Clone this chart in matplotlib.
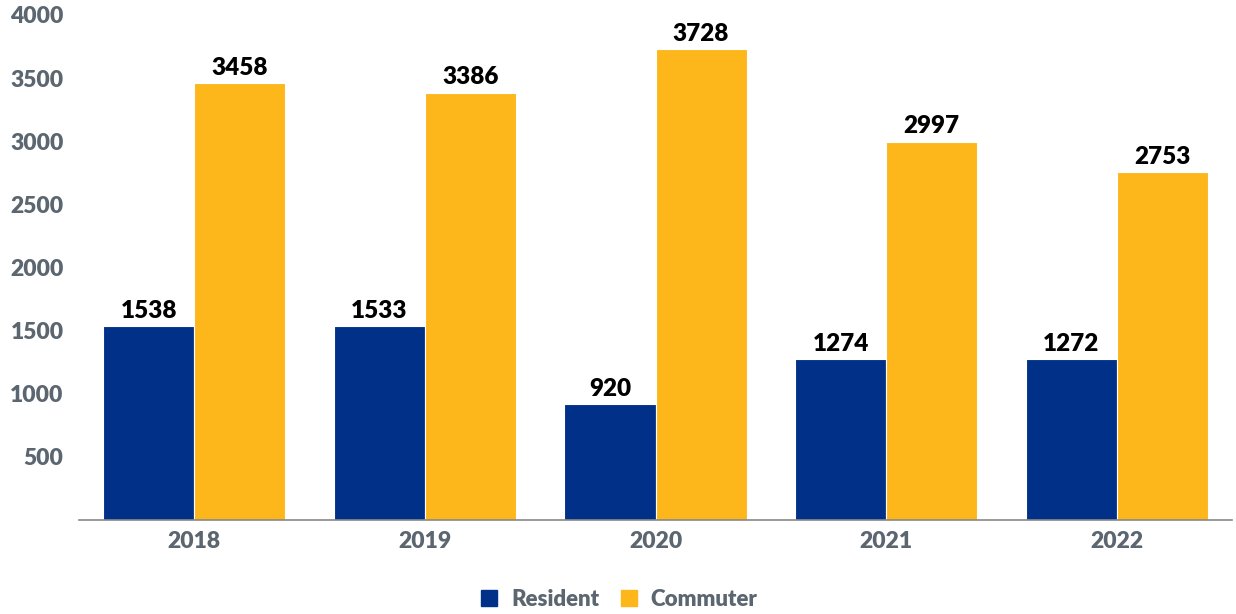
import matplotlib.pyplot as plt
import numpy as np
from matplotlib.lines import Line2D

years = ["2018", "2019", "2020", "2021", "2022"]
resident = [1538, 1533, 920, 1274, 1272]
commuter = [3458, 3386, 3728, 2997, 2753]

BLUE = "#003087"
YELLOW = "#FDB71A"
GRAY = "#5B6670"

plt.rcParams['font.family'] = ['Lato', 'DejaVu Sans']

fig = plt.figure(figsize=(12.36, 6.14), dpi=100)
ax = fig.add_axes([0.0639, 0.1531, 0.9329, 0.8225])

x = np.arange(len(years))
w = 0.395
b1 = ax.bar(x - w / 2, resident, w, color=BLUE, edgecolor="white", linewidth=0.8)
b2 = ax.bar(x + w / 2, commuter, w, color=YELLOW, edgecolor="white", linewidth=0.8)

for bars in (b1, b2):
    for rect in bars:
        h = rect.get_height()
        ax.annotate(f"{int(h)}", (rect.get_x() + rect.get_width() / 2, h),
                    xytext=(0, 3), textcoords="offset points",
                    ha="center", va="bottom", fontsize=17.5, fontweight="heavy", color="black")

ax.set_xlim(-0.5, len(years) - 0.5)
ax.set_ylim(0, 4000)
ax.set_yticks([500, 1000, 1500, 2000, 2500, 3000, 3500, 4000])
ax.set_xticks(x)
ax.set_xticklabels(years)
ax.tick_params(axis="both", length=0, labelsize=16.5, labelcolor=GRAY)
ax.tick_params(axis="y", pad=11)
ax.tick_params(axis="x", pad=8)
for lab in ax.get_xticklabels() + ax.get_yticklabels():
    lab.set_fontweight("heavy")

for s in ("top", "right", "left"):
    ax.spines[s].set_visible(False)
ax.spines["bottom"].set_color("#888888")
ax.spines["bottom"].set_linewidth(1.2)

handles = [Line2D([], [], marker="s", linestyle="", markersize=11, color=BLUE),
           Line2D([], [], marker="s", linestyle="", markersize=11, color=YELLOW)]
leg = fig.legend(handles, ["Resident", "Commuter"], loc="center", bbox_to_anchor=(0.5, 0.024),
                 ncol=2, frameon=False, handlelength=1.0, handletextpad=0.5, columnspacing=0.8,
                 prop={"size": 16, "weight": "heavy"})
for t in leg.get_texts():
    t.set_color(GRAY)

fig.savefig("out.png", dpi=100)
